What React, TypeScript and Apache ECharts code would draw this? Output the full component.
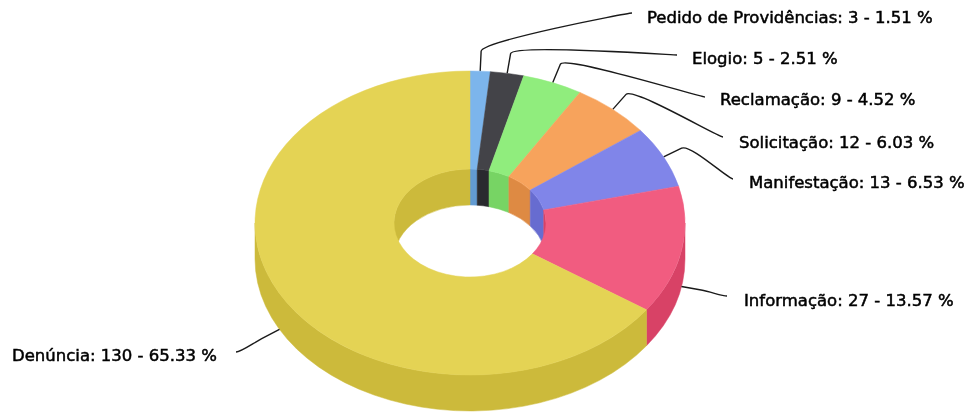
import React, { useEffect, useRef } from "react";
import * as echarts from "echarts";

const categories = ["Pedido de Providências", "Elogio", "Reclamação", "Solicitação", "Manifestação", "Informação", "Denúncia"];
const values = [3, 5, 9, 12, 13, 27, 130];
const percents = ["1.51", "2.51", "4.52", "6.03", "6.53", "13.57", "65.33"];
const topColors = ["#7cb5ec", "#434348", "#90ed7d", "#f7a35c", "#8085e9", "#f15c80", "#e4d354"];
const sideColors = ["#629bd2", "#2a2a2f", "#77d464", "#de8a43", "#676cd0", "#d84266", "#ccba3b"];

// Layout of the labels and of the connector ends
const labelX = [647, 692, 720, 739, 749, 744, 12];
const labelY = [17, 58, 99, 142, 182, 300, 355];
const anchorX = [627, 672, 700, 718, 728, 722, 241];
const anchorY = [13, 55, 97, 137, 179, 296, 352];

const CX = 470, CY = 223, RX = 215, RY = 152, IRX = 76, IRY = 54, DEPTH = 36, ELBOW = 20, SOFT = 0.5;
const total = values.reduce((a, b) => a + b, 0);
const starts: number[] = [];
values.reduce((acc, v, i) => { starts[i] = acc; return acc + v; }, 0);

const toAngle = (v: number) => (v / total) * Math.PI * 2; // clockwise from the top
const pt = (a: number, rx: number, ry: number, dy = 0): [number, number] => [CX + rx * Math.sin(a), CY - ry * Math.cos(a) + dy];
const f = (n: number) => n.toFixed(2);
const arc = (a0: number, a1: number, rx: number, ry: number, dy = 0) => {
  const p = pt(a1, rx, ry, dy);
  return `A${rx} ${ry} 0 ${Math.abs(a1 - a0) > Math.PI ? 1 : 0} ${a1 > a0 ? 1 : 0} ${f(p[0])} ${f(p[1])}`;
};
const band = (a0: number, a1: number, rx: number, ry: number) => {
  const s = pt(a0, rx, ry);
  const e = pt(a1, rx, ry, DEPTH);
  return `M${f(s[0])} ${f(s[1])}${arc(a0, a1, rx, ry)}L${f(e[0])} ${f(e[1])}${arc(a1, a0, rx, ry, DEPTH)}Z`;
};
const range = (i: number) => [toAngle(starts[i]), toAngle(starts[i] + values[i])];
const fill = (i: number, color: string) => ({ fill: color, stroke: color, lineWidth: 0.5 });

const wallItem = (p: any) => {
  const i = p.dataIndex;
  const [a0, a1] = range(i);
  const parts: string[] = [];
  const clip = (lo: number, hi: number) => {
    const s = Math.max(a0, lo), e = Math.min(a1, hi);
    if (e > s) parts.push(band(s, e, IRX, IRY));
  };
  clip(0, Math.PI / 2);
  clip((3 * Math.PI) / 2, Math.PI * 2);
  return parts.length ? { type: "path", shape: { pathData: parts.join("") }, style: fill(i, sideColors[i]) } : { type: "group", children: [] };
};

const sideItem = (p: any) => {
  const i = p.dataIndex;
  const [a0, a1] = range(i);
  const s = Math.max(a0, Math.PI / 2), e = Math.min(a1, (3 * Math.PI) / 2);
  return e > s ? { type: "path", shape: { pathData: band(s, e, RX, RY) }, style: fill(i, sideColors[i]) } : { type: "group", children: [] };
};

const topItem = (p: any) => {
  const i = p.dataIndex;
  const [a0, a1] = range(i);
  const s = pt(a0, RX, RY);
  const e = pt(a1, IRX, IRY);
  const d = `M${f(s[0])} ${f(s[1])}${arc(a0, a1, RX, RY)}L${f(e[0])} ${f(e[1])}${arc(a1, a0, IRX, IRY)}Z`;
  return { type: "path", shape: { pathData: d }, style: fill(i, topColors[i]) };
};

const connectorItem = (p: any) => {
  const i = p.dataIndex;
  const [a0, a1] = range(i);
  const mid = (a0 + a1) / 2;
  const dy = Math.cos(mid) < 0 ? DEPTH : 0;
  const s = pt(mid, RX, RY, dy);
  const m = pt(mid, RX + ELBOW, RY + ELBOW, dy);
  const ax = anchorX[i], ay = anchorY[i];
  const sx = ax + (ax > CX ? 5 : -5);
  const d = `M${sx} ${ay}C${ax} ${ay} ${f(m[0] + SOFT * (m[0] - s[0]))} ${f(m[1] + SOFT * (m[1] - s[1]))} ${f(m[0])} ${f(m[1])}L${f(s[0])} ${f(s[1])}`;
  return { type: "path", shape: { pathData: d }, style: { fill: "none", stroke: "#1a1a1a", lineWidth: 1.4 } };
};

const labelItem = (p: any) => {
  const i = p.dataIndex;
  return {
    type: "text",
    style: {
      text: `${categories[i]}: ${values[i]} - ${percents[i]} %`,
      x: labelX[i],
      y: labelY[i],
      fill: "#000000",
      stroke: "#000000",
      lineWidth: 0.5,
      font: '16.5px "DejaVu Sans"',
      textAlign: "left",
      textVerticalAlign: "middle",
    },
  };
};

const custom = (renderItem: any) => ({ type: "custom", coordinateSystem: "none", silent: true, renderItem, data: values });

export default function App() {
  const ref = useRef<HTMLDivElement>(null);
  useEffect(() => {
    const chart = echarts.init(ref.current!, null, { renderer: "svg" });
    chart.setOption({
      animation: false,
      backgroundColor: "#ffffff",
      series: [custom(wallItem), custom(sideItem), custom(connectorItem), custom(topItem), custom(labelItem)],
    });
    return () => chart.dispose();
  }, []);
  return <div ref={ref} style={{ position: "absolute", left: 0, top: 0, width: 970, height: 414, filter: "blur(0.4px)" }} />;
}
